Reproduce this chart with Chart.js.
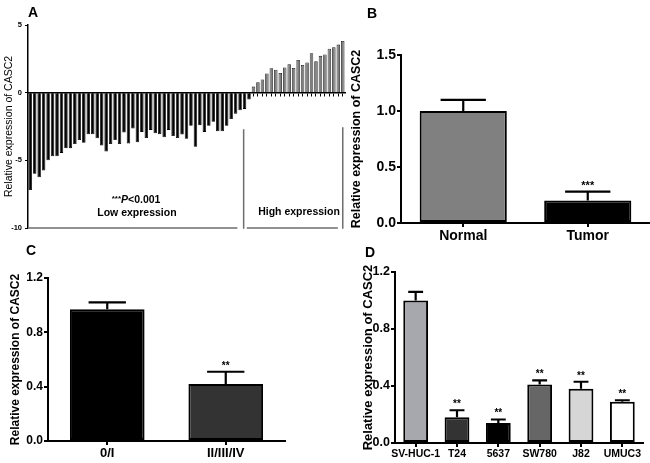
<!DOCTYPE html>
<html>
<head>
<meta charset="utf-8">
<script src="https://cdn.jsdelivr.net/npm/chart.js@4.4.1/dist/chart.umd.min.js"></script>
<style>
  html, body { margin: 0; padding: 0; background: #fff; }
  #wrap { position: relative; width: 650px; height: 463px; overflow: hidden; }
  .panel { position: absolute; }
  .tag { position: absolute; font: bold 14px Arial, "Liberation Sans", sans-serif; line-height: 14px; color: #000; }
</style>
</head>
<body>
<div id="wrap">
  <div class="panel" style="left:0;top:0;width:350px;height:240px"><canvas id="chartA"></canvas></div>
  <div class="panel" style="left:340px;top:0;width:310px;height:248px"><canvas id="chartB"></canvas></div>
  <div class="panel" style="left:0;top:240px;width:330px;height:223px"><canvas id="chartC"></canvas></div>
  <div class="panel" style="left:330px;top:240px;width:320px;height:223px"><canvas id="chartD"></canvas></div>
  <div class="tag" style="left:28px;top:5px">A</div>
  <div class="tag" style="left:367px;top:6px">B</div>
  <div class="tag" style="left:26px;top:243px">C</div>
  <div class="tag" style="left:365px;top:245px">D</div>
</div>
<script>
const FONT = 'Arial, "Liberation Sans", sans-serif';

// A: relative CASC2 expression per tumour sample, sorted into low / high groups
const lowExpression = [
  -7.2, -6.0, -6.25, -5.75, -5.0, -4.7, -4.7, -4.45, -4.1, -4.1,
  -3.8, -3.5, -3.7, -3.07, -3.07, -3.37, -3.9, -4.35, -3.8, -3.5,
  -3.8, -2.95, -3.75, -2.65, -3.67, -2.9, -3.35, -2.75, -3.0, -3.07,
  -3.3, -2.75, -3.2, -3.35, -3.1, -3.4, -2.45, -4.0, -2.4, -2.9,
  -2.45, -2.15, -2.85, -2.85, -2.45, -1.95, -1.55, -1.3, -1.2, -0.5
];
const highExpression = [
  0.45, 0.77, 0.97, 1.42, 1.8, 1.7, 1.45, 1.86, 2.1, 1.82,
  2.41, 2.05, 2.23, 2.92, 2.32, 2.72, 2.82, 3.25, 3.35, 3.55, 3.82
];
const sampleValues = lowExpression.concat(highExpression);
const sampleLabels = sampleValues.map((v, i) => 'S' + (i + 1));

// B: normal vs tumour tissue
const tissueGroups = ['Normal', 'Tumor'];
const tissueMeans = [1.0, 0.2];
const tissueErrors = [0.1, 0.08];
const tissueStars = ['', '***'];
const tissueColors = ['#808080', '#000000'];

// C: TNM stage
const stageGroups = ['0/I', 'II/III/IV'];
const stageMeans = [0.97, 0.42];
const stageErrors = [0.05, 0.09];
const stageStars = ['', '**'];
const stageColors = ['#000000', '#333333'];

// D: cell lines
const cellLines = ['SV-HUC-1', 'T24', '5637', 'SW780', 'J82', 'UMUC3'];
const cellMeans = [1.0, 0.18, 0.14, 0.41, 0.38, 0.29];
const cellErrors = [0.06, 0.05, 0.025, 0.03, 0.05, 0.01];
const cellStars = ['', '**', '**', '**', '**', '**'];
const cellColors = ['#a7a7ae', '#333333', '#000000', '#666666', '#d6d6d6', '#ffffff'];

// draws the upper error bar + significance stars above each bar
const errorBarPlugin = {
  id: 'errorBars',
  afterDatasetsDraw(chart, args, opts) {
    const ds = chart.data.datasets[0];
    if (!ds.errors) return;
    const meta = chart.getDatasetMeta(0);
    const yScale = chart.scales.y;
    const ctx = chart.ctx;
    ctx.save();
    ctx.strokeStyle = '#000';
    ctx.lineWidth = opts.lineWidth || 2;
    meta.data.forEach((bar, i) => {
      const top = yScale.getPixelForValue(ds.data[i] + ds.errors[i]);
      const half = bar.width * (opts.cap || 0.5) / 2;
      ctx.beginPath();
      ctx.moveTo(bar.x, bar.y);
      ctx.lineTo(bar.x, top);
      ctx.moveTo(bar.x - half, top);
      ctx.lineTo(bar.x + half, top);
      ctx.stroke();
      if (ds.stars && ds.stars[i]) {
        ctx.fillStyle = '#000';
        ctx.font = opts.starFont || ('bold 11px ' + FONT);
        ctx.textAlign = 'center';
        ctx.textBaseline = 'alphabetic';
        ctx.fillText(ds.stars[i], bar.x, top - 3);
      }
    });
    ctx.restore();
  }
};
Chart.register(errorBarPlugin);

// brackets and group labels of panel A
const groupLabelPlugin = {
  id: 'groupLabels',
  afterDraw(chart) {
    const ctx = chart.ctx;
    const xs = chart.scales.x, ys = chart.scales.y;
    const X = v => xs.getPixelForValue(v);
    const Y = v => ys.getPixelForValue(v);
    ctx.save();
    ctx.strokeStyle = '#6e6e6e';
    ctx.lineWidth = 1.5;
    ctx.beginPath();
    ctx.moveTo(X(-0.3), Y(-10)); ctx.lineTo(X(46.4), Y(-10));
    ctx.moveTo(X(48.5), Y(-10)); ctx.lineTo(X(68.9), Y(-10));
    ctx.moveTo(X(47.8), Y(-2.7)); ctx.lineTo(X(47.8), Y(-10.05));
    ctx.moveTo(X(70.0), Y(-2.55)); ctx.lineTo(X(70.0), Y(-10.05));
    ctx.stroke();

    ctx.fillStyle = '#000';
    ctx.textBaseline = 'middle';
    ctx.textAlign = 'center';
    ctx.font = 'bold 10.5px ' + FONT;
    ctx.fillText('Low expression', X(23.9), Y(-8.9));
    ctx.fillText('High expression', X(60.2), Y(-8.82));

    // "***P<0.001" with italic P
    const parts = [
      ['bold 8px ' + FONT, '***', -1.5],
      ['italic bold 10.5px ' + FONT, 'P', 0],
      ['bold 10.5px ' + FONT, '<0.001', 0]
    ];
    let w = 0;
    parts.forEach(p => { ctx.font = p[0]; w += ctx.measureText(p[1]).width; });
    let x = X(23.7) - w / 2;
    const y = Y(-7.95);
    ctx.textAlign = 'left';
    parts.forEach(p => {
      ctx.font = p[0];
      ctx.fillText(p[1], x, y + p[2]);
      x += ctx.measureText(p[1]).width;
    });
    ctx.restore();
  }
};

new Chart(document.getElementById('chartA'), {
  type: 'bar',
  data: {
    labels: sampleLabels,
    datasets: [{
      data: sampleValues,
      backgroundColor: sampleValues.map(v => v < 0 ? '#000000' : '#808080'),
      borderColor: sampleValues.map(v => v < 0 ? '#000000' : '#1a1a1a'),
      borderWidth: 0.8,
      barPercentage: 0.78,
      categoryPercentage: 1
    }]
  },
  options: {
    responsive: true,
    maintainAspectRatio: false,
    animation: false,
    layout: { padding: { top: 25, bottom: 12, left: 0, right: 5 } },
    plugins: { legend: { display: false }, tooltip: { enabled: false } },
    scales: {
      x: {
        position: { y: 0 },
        offset: true,
        ticks: { display: false },
        grid: { drawOnChartArea: false, drawTicks: true, tickLength: 3, offset: false, color: '#000', lineWidth: 1 },
        border: { display: true, color: '#000', width: 1.5, z: 1 }
      },
      y: {
        min: -10, max: 5,
        afterFit: s => { s.width = 28; },
        ticks: { stepSize: 5, color: '#000', padding: 3, font: { family: FONT, size: 7.5, weight: 'bold' } },
        grid: { drawOnChartArea: false, tickLength: 3, color: '#000', lineWidth: 1 },
        border: { color: '#000', width: 1.5, z: 1 },
        title: { display: true, text: 'Relative expression of CASC2', color: '#000', padding: { top: 3, bottom: 0 }, font: { family: FONT, size: 10.5 } }
      }
    }
  },
  plugins: [groupLabelPlugin]
});

function groupChart(id, s) {
  return new Chart(document.getElementById(id), {
    type: 'bar',
    data: {
      labels: s.labels,
      datasets: [{
        data: s.values,
        errors: s.errors,
        stars: s.stars,
        backgroundColor: s.colors,
        borderColor: '#000',
        borderWidth: 2,
        borderSkipped: false,
        barPercentage: s.barPct,
        categoryPercentage: 1
      }]
    },
    options: {
      responsive: true,
      maintainAspectRatio: false,
      animation: false,
      layout: { padding: s.padding },
      plugins: {
        legend: { display: false },
        tooltip: { enabled: false },
        errorBars: { lineWidth: 2.2, cap: s.cap, starFont: s.starFont }
      },
      scales: {
        x: {
          afterFit: sc => { sc.height = s.xHeight; },
          ticks: { color: '#000', padding: 1, autoSkip: false, maxRotation: 0, minRotation: 0, font: { family: FONT, size: s.xFont, weight: 'bold' } },
          grid: { drawOnChartArea: false, tickLength: 4, offset: false, color: '#000', lineWidth: 2 },
          border: { color: '#000', width: 2, z: 1 }
        },
        y: {
          min: 0, max: s.max,
          afterFit: sc => { sc.width = s.yWidth; },
          ticks: { stepSize: s.step, color: '#000', padding: 1, callback: v => v.toFixed(1), font: { family: FONT, size: s.yFont, weight: 'bold' } },
          grid: { drawOnChartArea: false, tickLength: 4, color: '#000', lineWidth: 2 },
          border: { color: '#000', width: 2, z: 1 },
          title: { display: true, text: 'Relative expression of CASC2', color: '#000', padding: { top: s.titlePad, bottom: 0 }, font: { family: FONT, size: s.titleFont, weight: 'bold' } }
        }
      }
    }
  });
}

groupChart('chartB', {
  labels: tissueGroups, values: tissueMeans, errors: tissueErrors, stars: tissueStars, colors: tissueColors,
  barPct: 0.7, cap: 0.52, max: 1.5, step: 0.5,
  padding: { top: 55, right: 0, left: 0, bottom: 0 },
  xHeight: 25, yWidth: 61, xFont: 14, yFont: 14, titleFont: 12.5, titlePad: 9,
  starFont: 'bold 11px ' + FONT
});

groupChart('chartC', {
  labels: stageGroups, values: stageMeans, errors: stageErrors, stars: stageStars, colors: stageColors,
  barPct: 0.63, cap: 0.5, max: 1.2, step: 0.4,
  padding: { top: 38, right: 45, left: 0, bottom: 0 },
  xHeight: 22, yWidth: 48, xFont: 13, yFont: 12, titleFont: 12, titlePad: 8,
  starFont: 'bold 10px ' + FONT
});

groupChart('chartD', {
  labels: cellLines, values: cellMeans, errors: cellErrors, stars: cellStars, colors: cellColors,
  barPct: 0.6, cap: 0.6, max: 1.2, step: 0.4,
  padding: { top: 32, right: 7, left: 0, bottom: 0 },
  xHeight: 20, yWidth: 65, xFont: 10.5, yFont: 12.5, titleFont: 13, titlePad: 31,
  starFont: 'bold 10px ' + FONT
});
</script>
</body>
</html>
